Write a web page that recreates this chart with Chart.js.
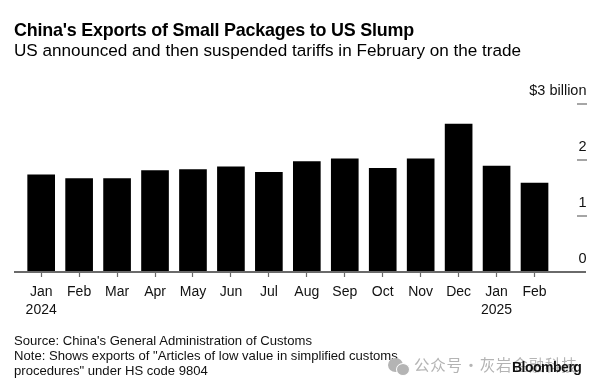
<!DOCTYPE html>
<html><head><meta charset="utf-8">
<script src="https://cdn.jsdelivr.net/npm/chart.js@4/dist/chart.umd.min.js"></script>
<style>
html,body{margin:0;padding:0;background:#fff;width:600px;height:389px;overflow:hidden}
body{position:relative;font-family:"Liberation Sans",Arial,sans-serif;color:#000}
#wrap{position:absolute;left:0;top:0;width:600px;height:389px}
.t{position:absolute;white-space:nowrap}
#title{left:14px;top:20px;font-size:17.9px;font-weight:700;line-height:20px;letter-spacing:-.2px}
#sub{left:14px;top:40px;font-size:17.14px;line-height:20px}
#foot{left:14px;top:334px;font-size:13.1px;line-height:14.8px;color:#111}
#wm{left:414px;top:354px;font-family:"Noto Sans CJK SC";font-size:15.5px;line-height:20px;color:#b4b4b4;letter-spacing:.8px;word-spacing:-4px}
#bb{left:512px;top:358px;font-size:14px;font-weight:700;line-height:18px;letter-spacing:-.5px;color:#111}
.ic{position:absolute;background:#b4b4b4;border-radius:50%}
</style></head><body>
<div id="wrap"><canvas id="c" width="600" height="389"></canvas></div>
<div class="t" id="title">China's Exports of Small Packages to US Slump</div>
<div class="t" id="sub">US announced and then suspended tariffs in February on the trade</div>
<div class="t" id="foot">Source: China's General Administration of Customs<br>Note: Shows exports of "Articles of low value in simplified customs<br>procedures" under HS code 9804</div>
<div class="ic" style="left:388px;top:358px;width:15px;height:14px"></div>
<div class="ic" style="left:396px;top:363px;width:12px;height:11px;border:1px solid #fff"></div>
<div class="t" id="wm">公众号 · 灰岩金融科技</div>
<div class="t" id="bb">Bloomberg</div>
<script>
const months = ["Jan","Feb","Mar","Apr","May","Jun","Jul","Aug","Sep","Oct","Nov","Dec","Jan","Feb"];
const years = {0:"2024",12:"2025"};
const exportsBn = [1.737,1.67,1.67,1.81,1.83,1.88,1.78,1.97,2.02,1.85,2.02,2.64,1.89,1.59];
const yTicks = [0,1,2,3];
const yTickLabels = ["0","1","2","$3 billion"];
const categories = months.map((m,i)=> years[i] ? [m,years[i]] : m);

const axisMarks = {
  id:'axisMarks',
  afterDatasetsDraw(chart){
    const {ctx,scales:{y}} = chart;
    ctx.save();
    ctx.strokeStyle='#6a6a6a';
    ctx.lineWidth=2;
    const by=y.getPixelForValue(0);
    ctx.beginPath();ctx.moveTo(14,by);ctx.lineTo(586,by);ctx.stroke();
    ctx.lineWidth=1.2;
    yTicks.filter(v=>v>0).forEach(v=>{
      const p=y.getPixelForValue(v);
      ctx.beginPath();ctx.moveTo(577,p);ctx.lineTo(587,p);ctx.stroke();
    });
    ctx.restore();
  }
};

new Chart(document.getElementById('c'),{
  type:'bar',
  data:{labels:categories,datasets:[{data:exportsBn,backgroundColor:'#000',borderWidth:0,barThickness:27}]},
  plugins:[axisMarks],
  options:{
    responsive:false,animation:false,
    layout:{padding:{left:22.2,right:12.5,top:104,bottom:0}},
    plugins:{legend:{display:false},tooltip:{enabled:false},title:{display:false}},
    scales:{
      x:{
        offset:true,
        grid:{display:true,drawOnChartArea:false,drawTicks:true,offset:false,tickLength:5,tickColor:'#6a6a6a',tickWidth:1.2},
        border:{display:false},
        afterFit(s){s.height=389-272;},
        ticks:{color:'#111',font:{family:'"Liberation Sans",Arial,sans-serif',size:14,lineHeight:1.29},maxRotation:0,autoSkip:false,padding:6}
      },
      y:{
        position:'right',min:0,max:3,
        grid:{display:false},
        border:{display:false},
        afterBuildTicks(s){s.ticks=yTicks.map(v=>({value:v}));},
        afterFit(s){s.width=34;},
        ticks:{
          color:'#111',font:{family:'"Liberation Sans",Arial,sans-serif',size:14.5},
          labelOffset:-13,mirror:true,padding:33,
          callback(v){return yTickLabels[yTicks.indexOf(v)];}
        }
      }
    }
  }
});
</script>
</body></html>
